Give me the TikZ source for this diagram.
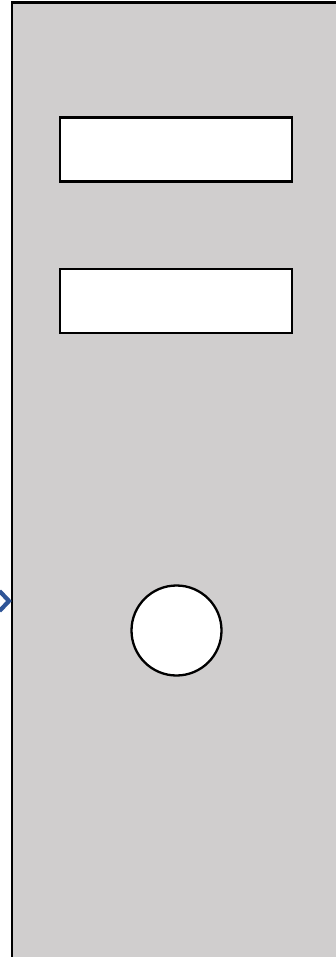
\documentclass[tikz,border=0pt]{standalone}
\usepackage{tikz}
\usetikzlibrary{arrows.meta, positioning}

\definecolor{casegray}{HTML}{D0CECE}
\definecolor{cableblue}{HTML}{2F5597}

\begin{document}
\begin{tikzpicture}[x=1pt, y=1pt,
    casebox/.style={draw=black, line width=2.6pt, fill=casegray, rectangle,
        minimum width=340pt, minimum height=970pt, inner sep=0pt},
    slotbox/.style={draw=black, line width=2.3pt, fill=white, rectangle,
        minimum width=232pt, minimum height=64pt, inner sep=0pt},
    powerbtn/.style={draw=black, line width=2.3pt, fill=white, circle,
        minimum size=90pt, inner sep=0pt},
    chevron/.style={draw=cableblue, line width=4.2pt}
]

    % FRAME
    \useasboundingbox (0,0) rectangle (336,-957);
    \clip (0,0) rectangle (336,-957);

    % TOWER CASE
    \node[casebox, anchor=north west] (tower) at (10.5,-1.5) {};

    % DRIVE BAYS
    \node[slotbox] (bayA) at (176,-149.5) {};
    \node[slotbox, below=85pt of bayA] (bayB) {};

    % POWER BUTTON
    \node[powerbtn] (button) at (176.5,-630.5) {};

    % INCOMING CABLE TIP
    \coordinate (tip) at (tower.west |- 0,-601);
    \draw[chevron] ([shift={(-11,10)}]tip) -- ([xshift=-1.5]tip) -- ([shift={(-11,-10)}]tip);

\end{tikzpicture}
\end{document}
